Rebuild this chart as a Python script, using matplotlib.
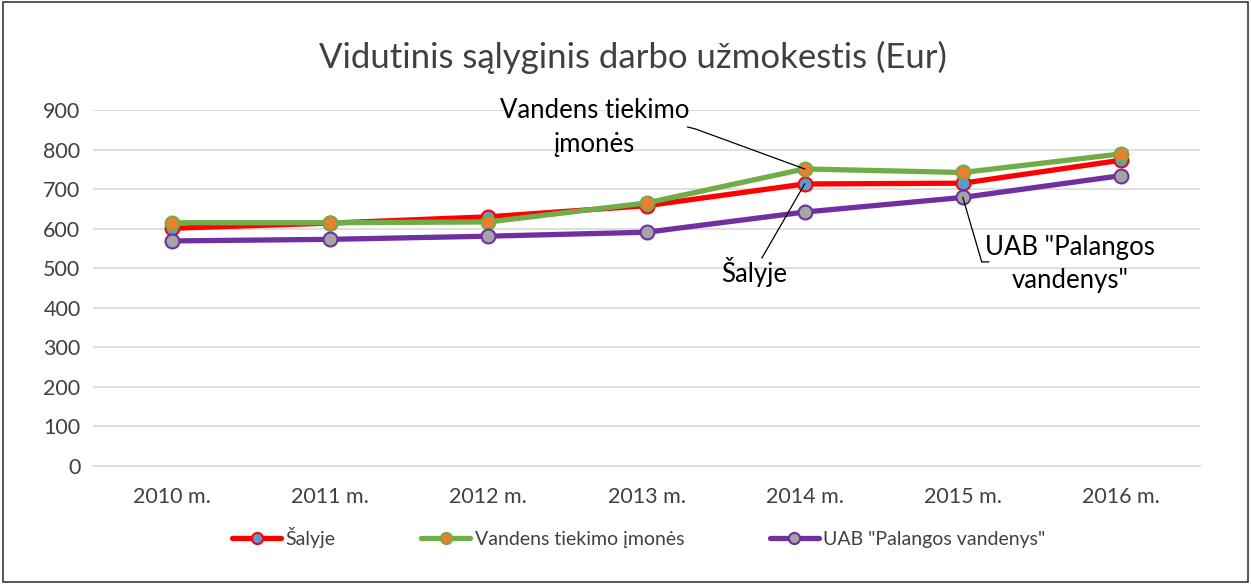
import matplotlib
matplotlib.use("Agg")
import matplotlib.pyplot as plt
from matplotlib.patches import Rectangle

years = ["2010 m.", "2011 m.", "2012 m.", "2013 m.", "2014 m.", "2015 m.", "2016 m."]
salyje = [601, 614, 630, 658, 713, 715, 773]
vandens = [615, 615, 617, 665, 751, 742, 789]
palanga = [569, 573, 581, 591, 642, 679, 734]
series_names = ["Šalyje", "Vandens tiekimo įmonės", 'UAB "Palangos vandenys"']
yticks = [0, 100, 200, 300, 400, 500, 600, 700, 800, 900]

plt.rcParams['font.family'] = ['Lato', 'DejaVu Sans']

fig = plt.figure(figsize=(12.51, 5.84), dpi=100)
fig.patches.append(Rectangle((0.002, 0.003), 0.996, 0.994, transform=fig.transFigure,
                             fill=False, edgecolor='#3a3a3a', linewidth=1.2))
ax = fig.add_axes([93/1251, 1 - 466/584, (1200 - 93)/1251, (466 - 110)/584])

x = list(range(len(years)))
styles = [
    (salyje, '#ff0000', '#5b9bd5'),
    (vandens, '#70ad47', '#ed7d31'),
    (palanga, '#7030a0', '#a5a5a5'),
]
lines = []
for (vals, lc, fc), name in zip(styles, series_names):
    ln, = ax.plot(x, vals, color=lc, linewidth=3.8, marker='o', markersize=10,
                  markerfacecolor=fc, markeredgecolor=lc, markeredgewidth=1.5,
                  label=name, solid_capstyle='round', zorder=3)
    lines.append(ln)

ax.set_ylim(0, 900)
ax.set_xlim(-0.5, len(years) - 0.5)
ax.set_yticks(yticks)
ax.set_xticks(x)
ax.set_xticklabels(years)
ax.grid(axis='y', color='#d9d9d9', linewidth=1.2)
ax.set_axisbelow(True)
for s in ['top', 'right', 'left']:
    ax.spines[s].set_visible(False)
ax.spines['bottom'].set_color('#d9d9d9')
ax.spines['bottom'].set_linewidth(1.2)
ax.tick_params(axis='both', length=0, labelsize=15.5, colors='#404040')
ax.tick_params(axis='x', pad=15)
ax.tick_params(axis='y', pad=9)

fig.text(633/1251, 1 - 57/584, "Vidutinis sąlyginis darbo užmokestis (Eur)",
         ha='center', va='center', fontsize=25, color='#404040')

# data labels with leader lines
lk = dict(color='black', lw=0.9, zorder=5)
ax.text(2.67, 857, "Vandens tiekimo\nįmonės", ha='center', va='center',
        fontsize=18.5, color='black', linespacing=1.45, zorder=5)
ax.plot([3.26, 3.31, 4], [857, 852, vandens[4]], **lk)

ax.text(3.68, 490, "Šalyje", ha='center', va='center', fontsize=18.5,
        color='black', zorder=5)
ax.plot([3.73, 4], [526, salyje[4]], **lk)

ax.text(5.68, 511, 'UAB "Palangos\nvandenys"', ha='center', va='center',
        fontsize=18.5, color='black', linespacing=1.4, zorder=5)
ax.plot([5.165, 5.12, 5], [516, 516, palanga[5]], **lk)

leg = fig.legend(handles=lines, loc='center', bbox_to_anchor=(639/1251, 1 - 537/584),
                 ncol=3, frameon=False, fontsize=14, handlelength=2.5,
                 columnspacing=4.4, handletextpad=0.25, markerscale=0.8)
for t in leg.get_texts():
    t.set_color('#404040')

fig.savefig("out.png", dpi=100)
